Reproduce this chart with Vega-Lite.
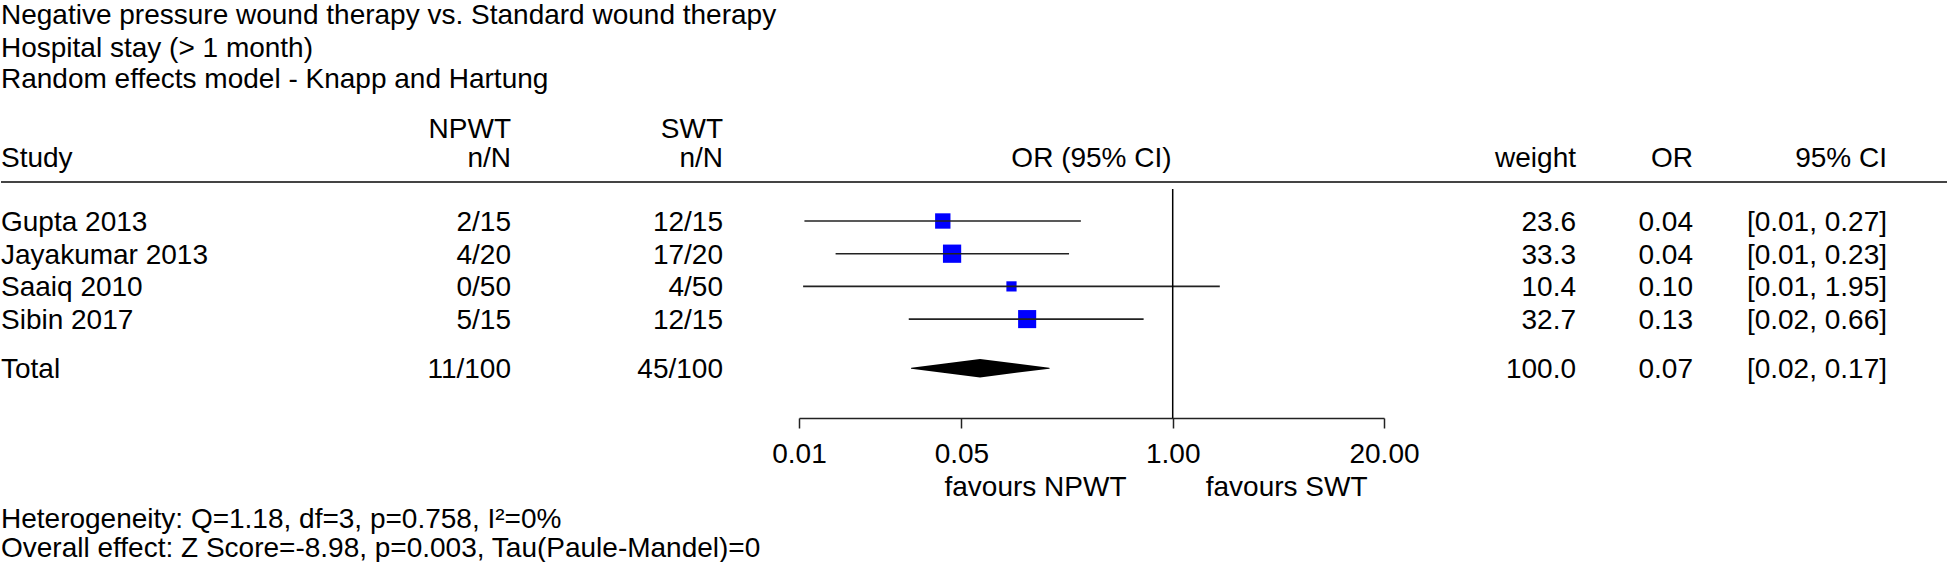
{
  "$schema": "https://vega.github.io/schema/vega-lite/v6.json",
  "padding": 0,
  "spacing": 0,
  "bounds": "flush",
  "datasets": {
    "studies": [
      {"study": "Gupta 2013", "npwt": "2/15", "swt": "12/15", "weight": 23.6, "or": 0.0384, "lo": 0.0054, "hi": 0.272, "ci": "[0.01, 0.27]", "row": 1, "kind": "study"},
      {"study": "Jayakumar 2013", "npwt": "4/20", "swt": "17/20", "weight": 33.3, "or": 0.0438, "lo": 0.0084, "hi": 0.23, "ci": "[0.01, 0.23]", "row": 2, "kind": "study"},
      {"study": "Saaiq 2010", "npwt": "0/50", "swt": "4/50", "weight": 10.4, "or": 0.1017, "lo": 0.0053, "hi": 1.95, "ci": "[0.01, 1.95]", "row": 3, "kind": "study"},
      {"study": "Sibin 2017", "npwt": "5/15", "swt": "12/15", "weight": 32.7, "or": 0.127, "lo": 0.0237, "hi": 0.662, "ci": "[0.02, 0.66]", "row": 4, "kind": "study"},
      {"study": "Total", "npwt": "11/100", "swt": "45/100", "weight": 100.0, "or": 0.0651, "lo": 0.0246, "hi": 0.1735, "ci": "[0.02, 0.17]", "row": 5.5, "kind": "total"}
    ],
    "one": [{}]
  },
  "hconcat": [
    {
      "width": 510, "height": 562,
      "layer": [
        {"data": {"name": "one"}, "mark": {"type": "rule", "color": "#444", "strokeWidth": 2},
         "encoding": {"x": {"value": 0}, "x2": {"value": "width"}, "y": {"datum": -0.193, "type": "quantitative", "scale": {"domain": [-5.758, 11.428], "reverse": true, "nice": false, "zero": false}, "axis": null}}},
        {"data": {"name": "one"}, "mark": {"type": "text", "align": "left", "text": "Negative pressure wound therapy vs. Standard wound therapy"},
         "encoding": {"x": {"value": 0}, "y": {"datum": -5.33, "type": "quantitative", "scale": {"domain": [-5.758, 11.428], "reverse": true, "nice": false, "zero": false}, "axis": null}}},
        {"data": {"name": "one"}, "mark": {"type": "text", "align": "left", "text": "Hospital stay (> 1 month)"},
         "encoding": {"x": {"value": 0}, "y": {"datum": -4.33, "type": "quantitative", "scale": {"domain": [-5.758, 11.428], "reverse": true, "nice": false, "zero": false}, "axis": null}}},
        {"data": {"name": "one"}, "mark": {"type": "text", "align": "left", "text": "Random effects model - Knapp and Hartung"},
         "encoding": {"x": {"value": 0}, "y": {"datum": -3.364, "type": "quantitative", "scale": {"domain": [-5.758, 11.428], "reverse": true, "nice": false, "zero": false}, "axis": null}}},
        {"data": {"name": "one"}, "mark": {"type": "text", "align": "left", "text": "Study"},
         "encoding": {"x": {"value": 0}, "y": {"datum": -0.957, "type": "quantitative", "scale": {"domain": [-5.758, 11.428], "reverse": true, "nice": false, "zero": false}, "axis": null}}},
        {"data": {"name": "one"}, "mark": {"type": "text", "align": "right", "text": "NPWT"},
         "encoding": {"x": {"value": "width"}, "y": {"datum": -1.835, "type": "quantitative", "scale": {"domain": [-5.758, 11.428], "reverse": true, "nice": false, "zero": false}, "axis": null}}},
        {"data": {"name": "one"}, "mark": {"type": "text", "align": "right", "text": "n/N"},
         "encoding": {"x": {"value": "width"}, "y": {"datum": -0.957, "type": "quantitative", "scale": {"domain": [-5.758, 11.428], "reverse": true, "nice": false, "zero": false}, "axis": null}}},
        {"data": {"name": "studies"}, "mark": {"type": "text", "align": "left"},
         "encoding": {"x": {"value": 0}, "text": {"field": "study"}, "y": {"field": "row", "type": "quantitative", "scale": {"domain": [-5.758, 11.428], "reverse": true, "nice": false, "zero": false}, "axis": null}}},
        {"data": {"name": "studies"}, "mark": {"type": "text", "align": "right"},
         "encoding": {"x": {"value": "width"}, "text": {"field": "npwt"}, "y": {"field": "row", "type": "quantitative", "scale": {"domain": [-5.758, 11.428], "reverse": true, "nice": false, "zero": false}, "axis": null}}},
        {"data": {"name": "one"}, "mark": {"type": "text", "align": "left", "text": "Heterogeneity: Q=1.18, df=3, p=0.758, I²=0%"},
         "encoding": {"x": {"value": 0}, "y": {"datum": 10.077, "type": "quantitative", "scale": {"domain": [-5.758, 11.428], "reverse": true, "nice": false, "zero": false}, "axis": null}}},
        {"data": {"name": "one"}, "mark": {"type": "text", "align": "left", "text": "Overall effect: Z Score=-8.98, p=0.003, Tau(Paule-Mandel)=0"},
         "encoding": {"x": {"value": 0}, "y": {"datum": 10.975, "type": "quantitative", "scale": {"domain": [-5.758, 11.428], "reverse": true, "nice": false, "zero": false}, "axis": null}}}
      ]
    },
    {
      "width": 212, "height": 562,
      "layer": [
        {"data": {"name": "one"}, "mark": {"type": "rule", "color": "#444", "strokeWidth": 2},
         "encoding": {"x": {"value": 0}, "x2": {"value": "width"}, "y": {"datum": -0.193, "type": "quantitative", "scale": {"domain": [-5.758, 11.428], "reverse": true, "nice": false, "zero": false}, "axis": null}}},
        {"data": {"name": "one"}, "mark": {"type": "text", "align": "right", "text": "SWT"},
         "encoding": {"x": {"value": "width"}, "y": {"datum": -1.835, "type": "quantitative", "scale": {"domain": [-5.758, 11.428], "reverse": true, "nice": false, "zero": false}, "axis": null}}},
        {"data": {"name": "one"}, "mark": {"type": "text", "align": "right", "text": "n/N"},
         "encoding": {"x": {"value": "width"}, "y": {"datum": -0.957, "type": "quantitative", "scale": {"domain": [-5.758, 11.428], "reverse": true, "nice": false, "zero": false}, "axis": null}}},
        {"data": {"name": "studies"}, "mark": {"type": "text", "align": "right"},
         "encoding": {"x": {"value": "width"}, "text": {"field": "swt"}, "y": {"field": "row", "type": "quantitative", "scale": {"domain": [-5.758, 11.428], "reverse": true, "nice": false, "zero": false}, "axis": null}}}
      ]
    },
    {
      "width": 76, "height": 562,
      "layer": [
        {"data": {"name": "one"}, "mark": {"type": "rule", "color": "#444", "strokeWidth": 2},
         "encoding": {"x": {"value": 0}, "x2": {"value": "width"}, "y": {"datum": -0.193, "type": "quantitative", "scale": {"domain": [-5.758, 11.428], "reverse": true, "nice": false, "zero": false}, "axis": null}}}
      ]
    },
    {
      "width": 585, "height": 562,
      "layer": [
        {"data": {"name": "one"}, "mark": {"type": "rule", "color": "#444", "strokeWidth": 2},
         "encoding": {"x": {"value": 0}, "x2": {"value": "width"}, "y": {"datum": -0.193, "type": "quantitative", "scale": {"domain": [-5.758, 11.428], "reverse": true, "nice": false, "zero": false}, "axis": null}}},
        {"data": {"name": "studies"}, "transform": [{"filter": "datum.kind === 'study'"}],
         "mark": {"type": "point", "shape": "square", "filled": true, "opacity": 1, "color": "#0000FF", "strokeWidth": 0},
         "encoding": {
           "x": {"field": "or", "type": "quantitative", "scale": {"type": "log", "domain": [0.005, 20], "nice": false},
                 "axis": {"values": [0.005, 0.05, 1, 20], "format": ".2f", "title": null, "grid": false, "offset": -144,
                          "labelFont": "Liberation Sans", "labelFontSize": 28, "labelColor": "black", "labelPadding": 12,
                          "labelFlush": false, "labelOverlap": false, "tickSize": 10, "tickColor": "#222", "tickWidth": 1.5,
                          "domainColor": "#222", "domainWidth": 1.5}},
           "y": {"field": "row", "type": "quantitative", "scale": {"domain": [-5.758, 11.428], "reverse": true, "nice": false, "zero": false}, "axis": null},
           "size": {"field": "weight", "type": "quantitative", "scale": {"domain": [0, 100], "range": [0, 1000]}, "legend": null}
         }},
        {"data": {"name": "studies"}, "transform": [{"filter": "datum.kind === 'study'"}],
         "mark": {"type": "rule", "color": "#222", "strokeWidth": 1.6},
         "encoding": {
           "x": {"field": "lo", "type": "quantitative"},
           "x2": {"field": "hi"},
           "y": {"field": "row", "type": "quantitative", "scale": {"domain": [-5.758, 11.428], "reverse": true, "nice": false, "zero": false}, "axis": null}
         }},
        {"data": {"name": "studies"}, "transform": [{"filter": "datum.kind === 'total'"}, {"fold": ["lo", "or", "hi"], "as": ["k", "v"]}],
         "mark": {"type": "trail", "color": "black"},
         "encoding": {
           "x": {"field": "v", "type": "quantitative"},
           "y": {"field": "row", "type": "quantitative", "scale": {"domain": [-5.758, 11.428], "reverse": true, "nice": false, "zero": false}, "axis": null},
           "order": {"field": "v", "type": "quantitative"},
           "size": {"condition": {"test": "datum.k === 'or'", "value": 18.5}, "value": 0}
         }},
        {"data": {"name": "one"}, "mark": {"type": "rule", "color": "black", "strokeWidth": 1.5},
         "encoding": {
           "x": {"datum": 1, "type": "quantitative"},
           "y": {"datum": 0.021, "type": "quantitative", "scale": {"domain": [-5.758, 11.428], "reverse": true, "nice": false, "zero": false}, "axis": null},
           "y2": {"datum": 7.024}
         }},
        {"data": {"name": "one"}, "mark": {"type": "text", "align": "center", "text": "OR (95% CI)"},
         "encoding": {"x": {"datum": 0.3162, "type": "quantitative"}, "y": {"datum": -0.957, "type": "quantitative", "scale": {"domain": [-5.758, 11.428], "reverse": true, "nice": false, "zero": false}, "axis": null}}},
        {"data": {"name": "one"}, "mark": {"type": "text", "align": "center", "text": "favours NPWT"},
         "encoding": {"x": {"datum": 0.143, "type": "quantitative"}, "y": {"datum": 9.104, "type": "quantitative", "scale": {"domain": [-5.758, 11.428], "reverse": true, "nice": false, "zero": false}, "axis": null}}},
        {"data": {"name": "one"}, "mark": {"type": "text", "align": "center", "text": "favours SWT"},
         "encoding": {"x": {"datum": 5.03, "type": "quantitative"}, "y": {"datum": 9.104, "type": "quantitative", "scale": {"domain": [-5.758, 11.428], "reverse": true, "nice": false, "zero": false}, "axis": null}}}
      ]
    },
    {
      "width": 192, "height": 562,
      "layer": [
        {"data": {"name": "one"}, "mark": {"type": "rule", "color": "#444", "strokeWidth": 2},
         "encoding": {"x": {"value": 0}, "x2": {"value": "width"}, "y": {"datum": -0.193, "type": "quantitative", "scale": {"domain": [-5.758, 11.428], "reverse": true, "nice": false, "zero": false}, "axis": null}}},
        {"data": {"name": "one"}, "mark": {"type": "text", "align": "right", "text": "weight"},
         "encoding": {"x": {"value": "width"}, "y": {"datum": -0.957, "type": "quantitative", "scale": {"domain": [-5.758, 11.428], "reverse": true, "nice": false, "zero": false}, "axis": null}}},
        {"data": {"name": "studies"}, "mark": {"type": "text", "align": "right"},
         "encoding": {"x": {"value": "width"}, "text": {"field": "weight", "type": "quantitative", "format": ".1f"}, "y": {"field": "row", "type": "quantitative", "scale": {"domain": [-5.758, 11.428], "reverse": true, "nice": false, "zero": false}, "axis": null}}}
      ]
    },
    {
      "width": 117, "height": 562,
      "layer": [
        {"data": {"name": "one"}, "mark": {"type": "rule", "color": "#444", "strokeWidth": 2},
         "encoding": {"x": {"value": 0}, "x2": {"value": "width"}, "y": {"datum": -0.193, "type": "quantitative", "scale": {"domain": [-5.758, 11.428], "reverse": true, "nice": false, "zero": false}, "axis": null}}},
        {"data": {"name": "one"}, "mark": {"type": "text", "align": "right", "text": "OR"},
         "encoding": {"x": {"value": "width"}, "y": {"datum": -0.957, "type": "quantitative", "scale": {"domain": [-5.758, 11.428], "reverse": true, "nice": false, "zero": false}, "axis": null}}},
        {"data": {"name": "studies"}, "mark": {"type": "text", "align": "right"},
         "encoding": {"x": {"value": "width"}, "text": {"field": "or", "type": "quantitative", "format": ".2f"}, "y": {"field": "row", "type": "quantitative", "scale": {"domain": [-5.758, 11.428], "reverse": true, "nice": false, "zero": false}, "axis": null}}}
      ]
    },
    {
      "width": 194, "height": 562,
      "layer": [
        {"data": {"name": "one"}, "mark": {"type": "rule", "color": "#444", "strokeWidth": 2},
         "encoding": {"x": {"value": 0}, "x2": {"value": "width"}, "y": {"datum": -0.193, "type": "quantitative", "scale": {"domain": [-5.758, 11.428], "reverse": true, "nice": false, "zero": false}, "axis": null}}},
        {"data": {"name": "one"}, "mark": {"type": "text", "align": "right", "text": "95% CI"},
         "encoding": {"x": {"value": "width"}, "y": {"datum": -0.957, "type": "quantitative", "scale": {"domain": [-5.758, 11.428], "reverse": true, "nice": false, "zero": false}, "axis": null}}},
        {"data": {"name": "studies"}, "mark": {"type": "text", "align": "right"},
         "encoding": {"x": {"value": "width"}, "text": {"field": "ci"}, "y": {"field": "row", "type": "quantitative", "scale": {"domain": [-5.758, 11.428], "reverse": true, "nice": false, "zero": false}, "axis": null}}}
      ]
    },
    {
      "width": 61, "height": 562,
      "layer": [
        {"data": {"name": "one"}, "mark": {"type": "rule", "color": "#444", "strokeWidth": 2},
         "encoding": {"x": {"value": 0}, "x2": {"value": "width"}, "y": {"datum": -0.193, "type": "quantitative", "scale": {"domain": [-5.758, 11.428], "reverse": true, "nice": false, "zero": false}, "axis": null}}}
      ]
    }
  ],
  "config": {
    "view": {"stroke": null},
    "concat": {"spacing": 0},
    "text": {"font": "Liberation Sans", "fontSize": 28, "baseline": "middle", "dy": 2, "color": "black"}
  }
}
